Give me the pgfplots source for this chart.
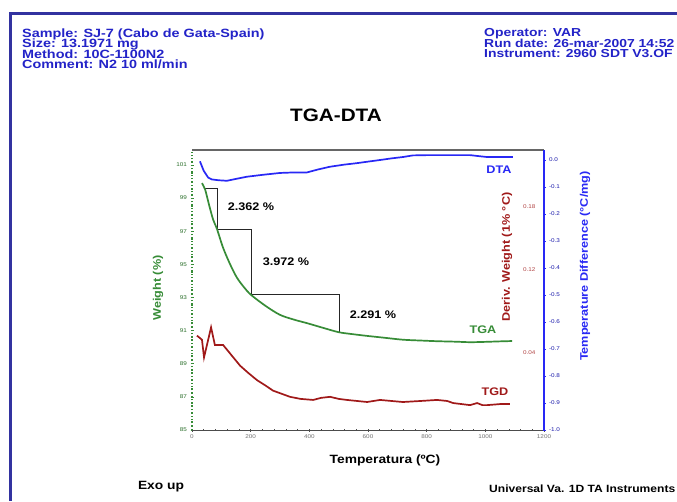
\documentclass[border=0pt]{standalone}
\usepackage{pgfplots}
\pgfplotsset{compat=1.18}
\usepackage{fontspec}
\setmainfont[FakeStretch=1.15]{Liberation Sans}
\newfontfamily\hdrfont[FakeStretch=1.2]{Liberation Sans}
\definecolor{hdrblue}{RGB}{35,35,200}
\definecolor{framebl}{RGB}{50,50,160}
\definecolor{tgagreen}{RGB}{55,140,55}
\definecolor{dtablue}{RGB}{40,40,245}
\definecolor{tgdred}{RGB}{160,25,25}
\begin{document}
\begin{tikzpicture}[x=1pt,y=1pt]
\useasboundingbox (0,0) rectangle (677,-501);
\fill[white] (0,0) rectangle (677,-501);
\draw[framebl, line width=2.5pt] (10.5,-501) -- (10.5,-13.5) -- (677,-13.5);
% header
\begin{scope}[every node/.style={anchor=base west, inner sep=0, text=hdrblue, font=\hdrfont\bfseries\fontsize{12}{10}\selectfont}]
\node at (22,-37) {Sample: SJ-7 (Cabo de Gata-Spain)};
\node at (22,-47.5) {Size: 13.1971 mg};
\node at (22,-58) {Method: 10C-1100N2};
\node at (22,-68.5) {Comment: N2 10 ml/min};
\end{scope}
\begin{scope}[every node/.style={anchor=base west, inner sep=0, text=hdrblue, font=\hdrfont\bfseries\fontsize{11.6}{10}\selectfont}]
\node at (484,-36.5) {Operator: VAR};
\node at (484,-47) {Run date: 26-mar-2007 14:52};
\node at (484,-57.5) {Instrument: 2960 SDT V3.OF};
\end{scope}
\node[font=\bfseries\fontsize{18}{18}\selectfont] at (336,-115) {TGA-DTA};

% TGA axis
\begin{axis}[
  at={(192pt,-430pt)}, anchor=south west,
  width=352pt, height=280pt, scale only axis,
  xmin=0, xmax=1200, ymin=85, ymax=101.9,
  axis x line*=bottom, axis y line*=left,
  x axis line style={draw=black!70, line width=1pt, -},
  y axis line style={draw=tgagreen, dotted, line width=1.3pt, -},
  xtick={0,200,400,600,800,1000,1200}, minor x tick num=4,
  ytick={85,87,89,91,93,95,97,99,101}, minor y tick num=3,
  major tick length=3pt, minor tick length=1.5pt, tick align=center,
  x tick style={black!70, line width=0.6pt},
  y tick style={tgagreen, line width=0.6pt},
  /pgf/number format/assume math mode=true,
  /pgf/number format/1000 sep={},
  tick label style={font=\fontsize{5.5}{5.5}\selectfont},
  xticklabel style={text=black!55},
  yticklabel style={text=tgagreen!80!black},
  clip=false,
]
\draw[black!60, line width=1.8pt] (rel axis cs:0,1) -- (rel axis cs:1,1);
\addplot[black!85, line width=0.7pt] coordinates {(44,99.61)(85,99.61)(85,97.14)(201,97.14)(201,93.16)(501,93.16)(501,90.9)};
\addplot[tgagreen, line width=1.7pt, smooth] coordinates {
(34,99.9)(45,99.5)(58,98.6)(72,97.7)(85,97.14)(106,96.0)(130,95.0)(153,94.2)(178,93.6)(201,93.16)(250,92.5)(300,91.95)(350,91.65)(392,91.45)(450,91.15)(501,90.9)(550,90.78)(597,90.68)(650,90.58)(719,90.45)(780,90.4)(835,90.36)(900,90.33)(948,90.3)(1000,90.32)(1050,90.35)(1091,90.37)};
\end{axis}

% DTA axis
\begin{axis}[
  at={(192pt,-430pt)}, anchor=south west,
  width=352pt, height=280pt, scale only axis,
  xmin=0, xmax=1200, ymin=-1.0, ymax=0.037,
  axis x line=none, axis y line*=right,
  y axis line style={draw=dtablue, line width=1.3pt, -},
  ytick={-1,-0.9,-0.8,-0.7,-0.6,-0.5,-0.4,-0.3,-0.2,-0.1,0},
  minor y tick num=1,
  major tick length=3pt, minor tick length=1.5pt, tick align=center,
  y tick style={dtablue, line width=0.6pt},
  /pgf/number format/assume math mode=true,
  yticklabel style={/pgf/number format/.cd, fixed, precision=1, zerofill, /tikz/.cd, font=\fontsize{5.5}{5.5}\selectfont, text=dtablue!70!black},
]
\addplot[dtablue, line width=1.7pt] coordinates {
(27,-0.005)(40,-0.04)(55,-0.065)(68,-0.072)(90,-0.075)(119,-0.077)(150,-0.07)(187,-0.062)(240,-0.055)(300,-0.048)(350,-0.046)(392,-0.046)(430,-0.035)(470,-0.025)(520,-0.017)(560,-0.012)(607,-0.005)(641,0.0)(680,0.006)(719,0.011)(753,0.017)(800,0.018)(900,0.018)(948,0.018)(980,0.014)(1006,0.011)(1094,0.011)};
\end{axis}

% TGD axis
\begin{axis}[
  at={(192pt,-430pt)}, anchor=south west,
  width=352pt, height=280pt, scale only axis,
  xmin=0, xmax=1200, ymin=-0.035, ymax=0.235,
  axis x line=none, axis y line*=right,
  y axis line style={draw=none},
  ytick={0.04,0.12,0.18},
  major tick length=0pt,
  /pgf/number format/assume math mode=true,
  yticklabel style={/pgf/number format/.cd, fixed, precision=2, zerofill, /tikz/.cd, font=\fontsize{5.5}{5.5}\selectfont, text=tgdred!80, anchor=east, xshift=-5pt},
]
\addplot[tgdred, line width=1.7pt] coordinates {
(17,0.056)(34,0.052)(41,0.035)(51,0.047)(65,0.064)(78,0.047)(106,0.047)(135,0.037)(164,0.027)(192,0.02)(222,0.013)(250,0.008)(276,0.003)(305,0.0)(334,-0.003)(370,-0.005)(413,-0.006)(440,-0.004)(471,-0.003)(500,-0.005)(528,-0.006)(597,-0.008)(641,-0.006)(680,-0.007)(719,-0.008)(780,-0.007)(835,-0.006)(870,-0.007)(890,-0.009)(948,-0.011)(972,-0.009)(990,-0.011)(1006,-0.011)(1050,-0.010)(1084,-0.010)};
\end{axis}

% labels
\node[rotate=90, text=tgagreen, font=\bfseries\fontsize{11}{11}\selectfont] at (158,-288) {Weight (\%)};
\node[rotate=90, text=tgdred, font=\bfseries\fontsize{11}{11}\selectfont] at (507,-257) {Deriv. Weight (1\% °C)};
\node[rotate=90, text=dtablue, font=\bfseries\fontsize{11}{11}\selectfont] at (585,-266) {Temperature Difference (°C/mg)};
\node[font=\bfseries\fontsize{12}{12}\selectfont] at (385,-460) {Temperatura (ºC)};
\node[font=\bfseries\fontsize{12}{12}\selectfont] at (161,-487) {Exo up};
\node[font=\bfseries\fontsize{10.5}{10.5}\selectfont, anchor=west, inner sep=0] at (489,-489) {Universal Va. 1D TA Instruments};
% annotations
\begin{scope}[every node/.style={font=\bfseries\fontsize{11}{11}\selectfont}]
\node at (251,-207) {2.362 \%};
\node at (286,-262) {3.972 \%};
\node at (373,-315) {2.291 \%};
\node[text=dtablue] at (499,-170) {DTA};
\node[text=tgagreen] at (483,-330) {TGA};
\node[text=tgdred] at (495,-392) {TGD};
\end{scope}
\end{tikzpicture}
\end{document}
